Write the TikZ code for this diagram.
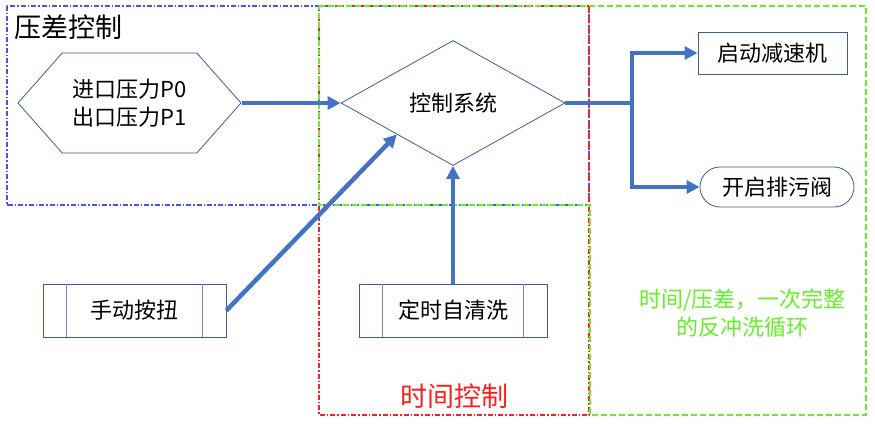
\documentclass[tikz,border=0pt]{standalone}
\usepackage{fontspec}
\usepackage{tikz}
\usetikzlibrary{arrows.meta, positioning, calc, shapes.geometric, shapes.symbols}
\newfontfamily\cjk{Noto Sans CJK SC}
\definecolor{flowblue}{RGB}{68,114,196}
\definecolor{edgeblue}{RGB}{60,90,160}
\definecolor{zoneblue}{RGB}{70,80,255}
\definecolor{zonered}{RGB}{255,30,30}
\definecolor{zonegreen}{RGB}{100,240,40}

\tikzset{
  box/.style={draw=edgeblue, line width=0.8pt, fill=white, inner sep=0pt,
    font=\cjk\fontsize{22}{28}\selectfont},
  proc/.style={box, minimum height=53pt},
  bar/.style={draw=edgeblue!70, line width=1.4pt},
  flow/.style={draw=flowblue, line width=4.5pt, -{Triangle[length=13pt,width=13pt]}},
  zone/.style={line width=1.2pt},
  big/.style={font=\cjk\fontsize{27}{30}\selectfont, inner sep=0pt}
}

\begin{document}
\begin{tikzpicture}[x=1pt, y=-1pt]
  \useasboundingbox (0,0) rectangle (875,425);

  % 区域
  \draw[zone, zoneblue, dash pattern=on 5pt off 2pt on 1.5pt off 2pt] (7,6) rectangle (589,205);
  \draw[zone, zonered, dash pattern=on 5pt off 2pt on 1.5pt off 2pt] (319,6) rectangle (589,415);
  \draw[zone, zonegreen, dash pattern=on 6pt off 3pt]
    (319,6) -- (866,6) -- (866,415) -- (590,415) -- (590,205) -- (319,205) -- cycle;

  \node[big, anchor=west] (pdiff) at (14,27.5) {压差控制};
  \node[big, text=zonered] (timectl) at (454,396) {时间控制};
  \node[font=\cjk\fontsize{22}{28}\selectfont, text=zonegreen, align=center] (cycle) at (742.5,313)
    {时间/压差，一次完整\\的反冲洗循环};

  % 节点
  \node[box, signal, signal to=west and east, signal pointer angle=97,
    minimum width=223pt, minimum height=100pt, align=center] (sensor) at (129.5,103)
    {进口压力P0\\出口压力P1};
  \node[box, diamond, aspect=1.79, minimum width=224pt, minimum height=125pt] (ctrl) at (453,103) {控制系统};
  \node[box, minimum width=149pt, minimum height=42pt] (motor) at (772.5,53) {启动减速机};
  \node[box, rounded corners=20pt, minimum width=154pt, minimum height=40pt] (valve) at (777,187) {开启排污阀};
  \node[proc, minimum width=183pt] (manual) at (134.5,310.5) {手动按扭};
  \node[proc, minimum width=188pt] (timer) at (453,310.5) {定时自清洗};

  \foreach \n in {manual, timer} {
    \draw[bar] ($(\n.north west)+(24,0)$) -- ($(\n.south west)+(24,0)$);
    \draw[bar] ($(\n.north east)+(-24,0)$) -- ($(\n.south east)+(-24,0)$);
  }

  % 连线
  \coordinate (split) at (632,103);
  \draw[flow] (sensor.east) -- (ctrl.west);
  \draw[flow] (manual.east) -- (ctrl.south west);
  \draw[flow] (timer.north) -- (ctrl.south);
  \draw[flow] (ctrl.east) -- (split) |- (motor.west);
  \draw[flow] (split) |- (valve.west);
\end{tikzpicture}
\end{document}
